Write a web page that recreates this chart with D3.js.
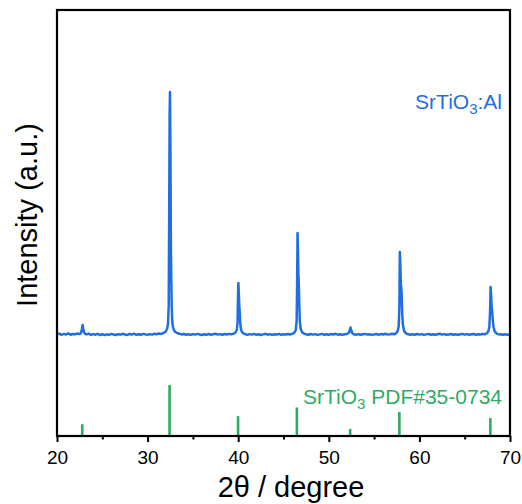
<!DOCTYPE html>
<html>
<head>
<meta charset="utf-8">
<script src="https://cdn.jsdelivr.net/npm/d3@7"></script>
<style>
  html, body { margin: 0; padding: 0; background: #fff; }
  svg { display: block; font-family: "Liberation Sans", Arial, sans-serif; }
</style>
</head>
<body>
<svg id="chart" width="522" height="504"></svg>
<script>
// ---------- data ----------
// measured XRD pattern of SrTiO3:Al : [2theta (deg), intensity (counts)]
const xrdPattern = [
  [20.0,1016],[20.25,1024],[20.5,1012],[20.75,1021],[21.0,1015],[21.25,1026],[21.5,1013],[21.75,1020],
  [22.0,1017],[22.25,1025],[22.5,1019],[22.65,1030],[22.75,1070],[22.83,1110],[22.9,1075],[22.98,1040],
  [23.1,1022],[23.25,1016],[23.5,1024],[23.75,1011],[24.0,1019],[24.25,1013],[24.5,1022],[24.75,1010],
  [25.0,1018],[25.25,1009],[25.5,1016],[25.75,1012],[26.0,1021],[26.25,1014],[26.5,1010],[26.75,1019],
  [27.0,1013],[27.25,1022],[27.5,1015],[27.75,1011],[28.0,1020],[28.25,1014],[28.5,1023],[28.75,1012],
  [29.0,1018],[29.25,1013],[29.5,1021],[29.75,1016],[30.0,1011],[30.25,1019],[30.5,1014],[30.75,1022],
  [31.0,1017],[31.25,1025],[31.5,1021],[31.75,1030],[32.0,1045],[32.15,1070],[32.25,1120],[32.33,1300],
  [32.38,2200],[32.43,3200],[32.47,3440],[32.52,2900],[32.57,1900],[32.61,1600],[32.66,1300],[32.72,1150],
  [32.8,1090],[32.9,1060],[33.05,1040],[33.25,1030],[33.5,1022],[33.75,1016],[34.0,1020],[34.25,1013],
  [34.5,1018],[34.75,1011],[35.0,1019],[35.25,1014],[35.5,1021],[35.75,1015],[36.0,1010],[36.25,1018],
  [36.5,1013],[36.75,1020],[37.0,1012],[37.25,1017],[37.5,1022],[37.75,1014],[38.0,1019],[38.25,1012],
  [38.5,1020],[38.75,1015],[39.0,1021],[39.25,1016],[39.5,1024],[39.7,1035],[39.85,1060],[39.93,1140],
  [39.98,1400],[40.02,1530],[40.07,1420],[40.12,1300],[40.17,1240],[40.23,1120],[40.32,1060],[40.45,1035],
  [40.65,1022],[40.85,1017],[41.0,1012],[41.25,1019],[41.5,1014],[41.75,1021],[42.0,1013],[42.25,1018],
  [42.5,1010],[42.75,1016],[43.0,1022],[43.25,1013],[43.5,1019],[43.75,1011],[44.0,1017],[44.25,1014],
  [44.5,1021],[44.75,1012],[45.0,1018],[45.25,1015],[45.5,1020],[45.75,1016],[46.0,1023],[46.2,1033],
  [46.35,1060],[46.45,1150],[46.5,1500],[46.55,2030],[46.6,1850],[46.64,1620],[46.68,1560],[46.73,1350],
  [46.8,1150],[46.9,1070],[47.05,1038],[47.25,1024],[47.5,1017],[47.75,1012],[48.0,1020],[48.25,1014],
  [48.5,1019],[48.75,1011],[49.0,1016],[49.25,1021],[49.5,1013],[49.75,1018],[50.0,1012],[50.25,1019],
  [50.5,1015],[50.75,1022],[51.0,1013],[51.25,1018],[51.5,1011],[51.75,1017],[52.0,1020],[52.2,1030],
  [52.32,1060],[52.4,1085],[52.48,1055],[52.58,1030],[52.75,1018],[53.0,1013],[53.25,1019],[53.5,1012],
  [53.75,1017],[54.0,1021],[54.25,1014],[54.5,1018],[54.75,1011],[55.0,1016],[55.25,1020],[55.5,1013],
  [55.75,1019],[56.0,1015],[56.25,1022],[56.5,1014],[56.75,1018],[57.0,1023],[57.25,1017],[57.45,1030],
  [57.6,1050],[57.72,1100],[57.79,1300],[57.84,1840],[57.9,1700],[57.95,1520],[58.0,1480],[58.05,1400],
  [58.1,1220],[58.18,1110],[58.3,1055],[58.45,1032],[58.65,1020],[58.9,1015],[59.0,1012],[59.25,1018],
  [59.5,1013],[59.75,1020],[60.0,1014],[60.25,1019],[60.5,1011],[60.75,1016],[61.0,1021],[61.25,1013],
  [61.5,1018],[61.75,1012],[62.0,1017],[62.25,1022],[62.5,1014],[62.75,1019],[63.0,1012],[63.25,1016],
  [63.5,1020],[63.75,1013],[64.0,1018],[64.25,1011],[64.5,1017],[64.75,1021],[65.0,1014],[65.25,1019],
  [65.5,1012],[65.75,1017],[66.0,1020],[66.25,1013],[66.5,1018],[66.75,1015],[67.0,1021],[67.25,1017],
  [67.45,1028],[67.6,1045],[67.72,1090],[67.8,1250],[67.86,1490],[67.92,1400],[67.98,1280],[68.04,1240],
  [68.1,1160],[68.18,1090],[68.3,1050],[68.45,1030],[68.65,1019],[68.9,1014],[69.0,1018],[69.25,1012],
  [69.5,1017],[69.75,1013],[70.0,1016]
];

// reference card SrTiO3 PDF#35-0734
const pdfAngles = [22.784, 32.424, 39.984, 46.477, 52.357, 57.790, 67.830];
const pdfIntensity = [23, 100, 39, 56, 14, 47, 35];

const xMajorTicks = [20, 30, 40, 50, 60, 70];
const xMinorTicks = [25, 35, 45, 55, 65];
const sampleLabel = ["SrTiO", "3", ":Al"];
const refLabel = ["SrTiO", "3", " PDF#35-0734"];
const xTitle = "2θ / degree";
const yTitle = "Intensity (a.u.)";

// ---------- layout ----------
const W = 522, H = 504;
const margin = { left: 57, right: 12, top: 10, bottom: 68 };
const plotL = margin.left, plotR = W - margin.right, plotT = margin.top, plotB = H - margin.bottom;
const blue = "#1f6fe3", green = "#2eab63";

const svg = d3.select("#chart");

const x = d3.scaleLinear().domain([20, 70]).range([plotL, plotR]);
const y = d3.scaleLinear().domain([0, 4260]).range([plotB, plotT]);
const yStick = d3.scaleLinear().domain([0, 100]).range([plotB, plotB - 51]);

// clip
svg.append("defs").append("clipPath").attr("id", "clip")
  .append("rect").attr("x", plotL).attr("y", plotT).attr("width", plotR - plotL).attr("height", plotB - plotT);

// reference sticks
svg.append("g").attr("clip-path", "url(#clip)")
  .selectAll("line").data(pdfAngles).join("line")
  .attr("x1", d => x(d)).attr("x2", d => x(d))
  .attr("y1", yStick(0)).attr("y2", (d, i) => yStick(pdfIntensity[i]))
  .attr("stroke", green).attr("stroke-width", 2.6);

// pattern
const line = d3.line().x(d => x(d[0])).y(d => y(d[1]));
svg.append("path").attr("clip-path", "url(#clip)")
  .datum(xrdPattern)
  .attr("d", line)
  .attr("fill", "none")
  .attr("stroke", blue)
  .attr("stroke-width", 2.5)
  .attr("stroke-linejoin", "round");

// axes
const xAxis = d3.axisBottom(x).tickValues(xMajorTicks).tickSize(6).tickPadding(9).tickFormat(d3.format("d"));
const gx = svg.append("g").attr("transform", `translate(0,${plotB})`).call(xAxis);
gx.select(".domain").remove();
gx.selectAll(".tick line").attr("stroke", "#000").attr("stroke-width", 2);
gx.selectAll(".tick text").attr("font-size", 19).attr("fill", "#000")
  .attr("font-family", "'Liberation Sans', Arial, sans-serif");

const xMinor = d3.axisBottom(x).tickValues(xMinorTicks).tickSize(3.5).tickFormat("");
const gm = svg.append("g").attr("transform", `translate(0,${plotB})`).call(xMinor);
gm.select(".domain").remove();
gm.selectAll(".tick line").attr("stroke", "#000").attr("stroke-width", 2);

// frame
svg.append("rect")
  .attr("x", plotL).attr("y", plotT).attr("width", plotR - plotL).attr("height", plotB - plotT)
  .attr("fill", "none").attr("stroke", "#000").attr("stroke-width", 2.2);

// labels
function subLabel(parts, xPos, yPos, color) {
  const t = svg.append("text").attr("x", xPos).attr("y", yPos)
    .attr("text-anchor", "end").attr("font-size", 21).attr("fill", color);
  t.append("tspan").text(parts[0]);
  t.append("tspan").attr("font-size", 15).attr("dy", 5).text(parts[1]);
  t.append("tspan").attr("dy", -5).text(parts[2]);
}
subLabel(sampleLabel, 502, 109, blue);
subLabel(refLabel, 502, 404, green);

svg.append("text").attr("x", 291).attr("y", 497).attr("text-anchor", "middle")
  .attr("font-size", 29).attr("fill", "#000").text(xTitle);

svg.append("text").attr("transform", "translate(37,215) rotate(-90)").attr("text-anchor", "middle")
  .attr("font-size", 29).attr("fill", "#000").text(yTitle);
</script>
</body>
</html>
